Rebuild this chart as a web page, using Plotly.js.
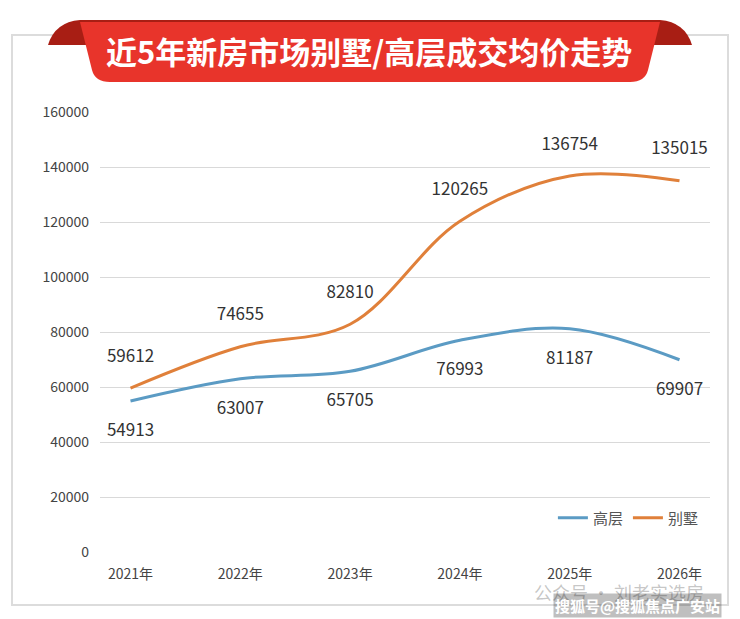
<!DOCTYPE html>
<html>
<head>
<meta charset="utf-8">
<script src="https://cdn.plot.ly/plotly-3.0.0.min.js"></script>
<style>body{margin:0;background:#fff}#chart{width:740px;height:619px}</style>
</head>
<body>
<div id="chart"></div>
<script>
var years = ['2021年', '2022年', '2023年', '2024年', '2025年', '2026年'];
var gaoceng = [54913, 63007, 65705, 76993, 81187, 69907];
var bieshu = [59612, 74655, 82810, 120265, 136754, 135015];

// pixel -> paper helpers
var L = 100, R = 30, T = 112, B = 67, W = 740, H = 619;
function px(x){ return (x - L) / (W - L - R); }
function py(y){ return (H - B - y) / (H - T - B); }

var font = "'Noto Sans CJK SC', 'Noto Sans', sans-serif";

var data = [
	{
		name: '高层', x: years, y: gaoceng, mode: 'lines+text',
		line: {color: '#5b9bc4', width: 3, shape: 'spline', smoothing: 1},
		text: gaoceng.map(function(v){ return ' <br>' + v; }), textposition: 'bottom center',
		textfont: {size: 17, color: '#333'}
	},
	{
		name: '别墅', x: years, y: bieshu, mode: 'lines+text',
		line: {color: '#e0803a', width: 3, shape: 'spline', smoothing: 1},
		text: bieshu.map(function(v){ return v + '<br> '; }), textposition: 'top center',
		textfont: {size: 17, color: '#333'}
	}
];

var layout = {
	width: W, height: H,
	margin: {l: L, r: R, t: T, b: B},
	paper_bgcolor: '#fff', plot_bgcolor: '#fff',
	font: {family: font, color: '#444', size: 14},
	showlegend: true,
	legend: {orientation: 'h', x: 0.99, xanchor: 'right', y: py(518), yanchor: 'middle',
		font: {size: 15, color: '#555'}, bgcolor: 'rgba(0,0,0,0)'},
	xaxis: {type: 'category', showgrid: false, zeroline: false, ticks: '', ticklabelstandoff: 12,
		tickfont: {size: 14, color: '#444'}},
	yaxis: {range: [0, 160000], dtick: 20000, tickformat: 'd', gridcolor: '#d9d9d9', zeroline: false,
		tickfont: {size: 14, color: '#444'}, ticklabelstandoff: 10, automargin: false},
	shapes: [
		{type: 'rect', xref: 'paper', yref: 'paper', x0: px(12), x1: px(728), y0: py(605), y1: py(35),
			line: {color: '#dcdcdc', width: 2}, fillcolor: 'rgba(0,0,0,0)', layer: 'below'},
		{type: 'path', xref: 'paper', yref: 'paper',
			path: 'M' + px(48) + ',' + py(45) + ' Q' + px(55) + ',' + py(22) + ' ' + px(80) + ',' + py(20) +
				' L' + px(660) + ',' + py(20) + ' Q' + px(685) + ',' + py(22) + ' ' + px(692) + ',' + py(45) + ' Z',
			fillcolor: '#a81e14', line: {width: 0}},
		{type: 'path', xref: 'paper', yref: 'paper',
			path: 'M' + px(80) + ',' + py(22) + ' L' + px(660) + ',' + py(22) + ' L' + px(648) + ',' + py(70) +
				' Q' + px(645) + ',' + py(82) + ' ' + px(630) + ',' + py(82) + ' L' + px(110) + ',' + py(82) +
				' Q' + px(95) + ',' + py(82) + ' ' + px(92) + ',' + py(70) + ' Z',
			fillcolor: '#e8342b', line: {width: 0}}
	],
	annotations: [
		{text: '<b>近5年新房市场别墅/高层成交均价走势</b>', xref: 'paper', yref: 'paper', x: px(369), y: py(50),
			xanchor: 'center', yanchor: 'middle',
			showarrow: false, font: {size: 31, color: '#fff', family: font}},
		{text: '公众号 · 刘老实选房', xref: 'paper', yref: 'paper', x: px(532), y: py(592), xanchor: 'left', yanchor: 'middle',
			showarrow: false, font: {size: 18, color: 'rgba(150,150,150,0.55)', family: font}},
		{text: '<b>搜狐号@搜狐焦点广安站</b>', xref: 'paper', yref: 'paper', x: px(722), y: py(605), xanchor: 'right', yanchor: 'middle',
			showarrow: false, font: {size: 15, color: '#fff', family: font}, bgcolor: 'rgba(0,0,0,0.25)'}
	]
};

Plotly.newPlot('chart', data, layout, {staticPlot: true});
</script>
</body>
</html>
